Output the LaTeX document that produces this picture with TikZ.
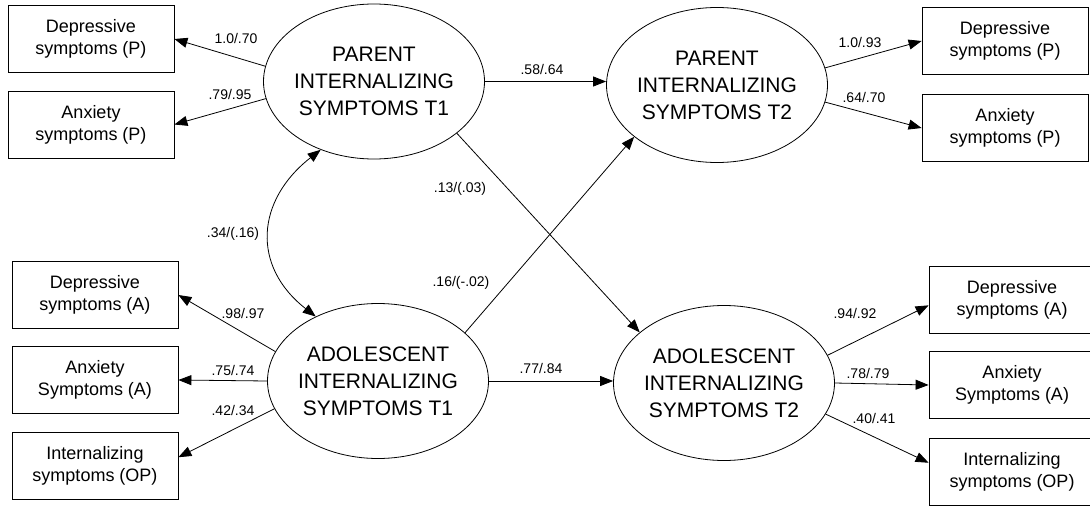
\documentclass[tikz,border=0pt]{standalone}
\usepackage{fontspec}
\setmainfont{Liberation Sans}
\usetikzlibrary{arrows.meta,shapes.geometric}
\begin{document}
\begin{tikzpicture}[x=1pt,y=-1pt,
  lat/.style={ellipse,draw,line width=0.8pt,minimum width=221pt,minimum height=155pt,inner xsep=-5pt,inner ysep=0pt,align=center,font=\fontsize{21}{27}\selectfont},
  obs/.style={rectangle,draw,line width=0.8pt,minimum width=166pt,minimum height=67pt,inner sep=0pt,align=center,font=\fontsize{18}{22}\selectfont},
  lbl/.style={inner sep=0pt,font=\fontsize{14}{16}\selectfont},
  arr/.style={line width=0.8pt,-{Triangle[length=13pt,width=10pt]}},
  dbl/.style={line width=0.8pt,{Triangle[length=13pt,width=10pt]}-{Triangle[length=13pt,width=10pt]}}]
\useasboundingbox (0,0) rectangle (1090,506);

% latent variables
\node[lat] (p1) at (374,81.5) {PARENT\\INTERNALIZING\\SYMPTOMS T1};
\node[lat] (p2) at (717,85) {PARENT\\INTERNALIZING\\SYMPTOMS T2};
\node[lat] (a1) at (378,381) {ADOLESCENT\\INTERNALIZING\\SYMPTOMS T1};
\node[lat] (a2) at (724,383) {ADOLESCENT\\INTERNALIZING\\SYMPTOMS T2};

% indicators
\node[obs] (dp1) at (91,39) {Depressive\\symptoms (P)};
\node[obs] (ap1) at (91,124.5) {Anxiety\\symptoms (P)};
\node[obs] (da1) at (95,295) {Depressive\\symptoms (A)};
\node[obs] (aa1) at (95,380) {Anxiety\\Symptoms (A)};
\node[obs] (ia1) at (95,466) {Internalizing\\symptoms (OP)};
\node[obs] (dp2) at (1005,41) {Depressive\\symptoms (P)};
\node[obs] (ap2) at (1005,128) {Anxiety\\symptoms (P)};
\node[obs] (da2) at (1012,299.5) {Depressive\\symptoms (A)};
\node[obs] (aa2) at (1012,385) {Anxiety\\Symptoms (A)};
\node[obs] (ia2) at (1012,471.5) {Internalizing\\symptoms (OP)};

% connectors
\draw[arr] (p1.172) -- (dp1.east);
\draw[arr] (p1.189) -- (ap1.east);
\draw[arr] (p1.east) -- (p1.east -| p2.west);
\draw[arr] (p1.-32) -- (a2.149);
\draw[arr] (a1.29) -- (p2.212);
\draw[arr] (a1.east) -- (a1.east -| a2.west);
\draw[arr] (a1.164) -- (da1.east);
\draw[arr] (a1.west) -- (aa1.east);
\draw[arr] (a1.195) -- (ia1.6);
\draw[arr] (p2.9) -- (dp2.west);
\draw[arr] (p2.-9) -- (ap2.west);
\draw[arr] (a2.15) -- (da2.184);
\draw[arr] (a2.east) -- (aa2.west);
\draw[arr] (a2.-17) -- (ia2.174);
\draw[dbl] (p1.232) .. controls +(142:82) and +(218:82) .. (a1.134);

% labels
\node[lbl] (l1) at (236,38) {1.0/.70};
\node[lbl] (l2) at (230,94) {.79/.95};
\node[lbl] (l3) at (542,69) {.58/.64};
\node[lbl] (l4) at (460,189) {.13/(.03)};
\node[lbl] (l5) at (461,283) {.16/(-.02)};
\node[lbl] (l6) at (233,234) {.34/(.16)};
\node[lbl] (l7) at (243,313) {.98/.97};
\node[lbl] (l8) at (233,370) {.75/.74};
\node[lbl] (l9) at (233,410) {.42/.34};
\node[lbl] (l10) at (541,368) {.77/.84};
\node[lbl] (l11) at (860,42) {1.0/.93};
\node[lbl] (l12) at (864,97) {.64/.70};
\node[lbl] (l13) at (855,313) {.94/.92};
\node[lbl] (l14) at (868,373) {.78/.79};
\node[lbl] (l15) at (874,418) {.40/.41};
\end{tikzpicture}
\end{document}
